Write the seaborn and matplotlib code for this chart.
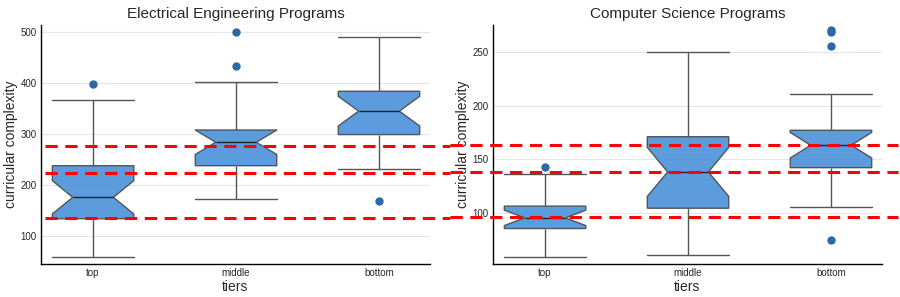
import numpy as np
import pandas as pd
import matplotlib
matplotlib.use("Agg")
import matplotlib.pyplot as plt
import matplotlib.colors as mcolors
import seaborn as sns

tiers = ["top", "middle", "bottom"]

# curricular complexity per tier
ee_top = [58, 88, 104, 115, 122, 129, 133, 141, 150, 157, 163, 170, 175,
          183, 192, 201, 214, 226, 237, 252, 271, 296, 331, 366, 398]
ee_middle = [171, 196, 210, 221, 229, 237, 248, 259, 268, 276, 283, 288,
             293, 298, 302, 307, 331, 362, 402, 433, 500]
ee_bottom = [167, 231, 256, 272, 286, 298, 309, 318, 327, 336, 344, 352,
             360, 368, 376, 383, 402, 423, 447, 468, 489]

cs_top = [58, 68, 74, 79, 82, 85, 87, 89, 91, 93, 95, 97, 99, 101, 103,
          106, 112, 119, 127, 136, 143]
cs_middle = [60, 72, 81, 89, 97, 104, 111, 118, 125, 132, 138, 145, 151,
             158, 165, 171, 183, 197, 212, 230, 250]
cs_bottom = [74, 105, 118, 128, 136, 142, 147, 151, 155, 159, 163, 166,
             169, 172, 175, 177, 194, 211, 256, 269, 271]

# red dashed reference lines
ee_refs = [275, 223, 134]
cs_refs = [163, 138, 96]

BOX_W = 0.57
CAP_COLOR = "#555555"


def make_df(groups):
    rows = []
    for tier, vals in zip(tiers, groups):
        for v in vals:
            rows.append({"tiers": tier, "curricular complexity": v})
    return pd.DataFrame(rows)


sns.set_style("white")
plt.rcParams["font.family"] = ["Liberation Sans", "DejaVu Sans"]

fig, axes = plt.subplots(1, 2, figsize=(9, 2.97), dpi=100)
fig.subplots_adjust(left=0.0456, right=0.98, top=0.916, bottom=0.11, wspace=0.162)

panels = [
    (axes[0], make_df([ee_top, ee_middle, ee_bottom]), "Electrical Engineering Programs",
     ee_refs, (43.6, 513), [100, 200, 300, 400, 500], (0.01, 1.051)),
    (axes[1], make_df([cs_top, cs_middle, cs_bottom]), "Computer Science Programs",
     cs_refs, (51.5, 275.6), [100, 150, 200, 250], (-0.11, 1.041)),
]

for ax, df, title, refs, ylim, yticks, span in panels:
    ax.grid(True, color="#e6e6e6", linewidth=0.8)
    ax.set_axisbelow(True)
    sns.boxplot(data=df, x="tiers", y="curricular complexity", order=tiers, ax=ax,
                notch=True, width=BOX_W, color="#4a90d9", saturation=1,
                linecolor="#3c3c3c", linewidth=1.0, whis=1.5,
                boxprops={"alpha": 0.9, "edgecolor": "#4a4a4a"},
                whiskerprops={"color": CAP_COLOR},
                capprops={"color": CAP_COLOR},
                medianprops={"color": "#222222", "linewidth": 1.0},
                flierprops={"marker": "o", "markerfacecolor": "#2c68a6",
                            "markeredgecolor": "#2c68a6", "markersize": 5})
    # caps as wide as the boxes (seaborn draws them at half width)
    for line in ax.lines:
        x = np.asarray(line.get_xdata(), dtype=float)
        y = np.asarray(line.get_ydata(), dtype=float)
        if (len(x) == 2 and y[0] == y[1] and x[0] != x[1]
                and mcolors.same_color(line.get_color(), CAP_COLOR)):
            c = (x[0] + x[1]) / 2
            line.set_xdata([c - BOX_W / 2, c + BOX_W / 2])
    for r in refs:
        ax.axhline(r, xmin=span[0], xmax=span[1], color="#ff0000", linestyle=(0, (4, 2.5)),
                   linewidth=2.2, clip_on=False, zorder=5)
    ax.set_xlim(-0.364, 2.357)
    ax.set_ylim(*ylim)
    ax.set_yticks(yticks)
    ax.set_title(title, fontsize=11, pad=5)
    ax.set_xlabel("tiers", fontsize=10, labelpad=1)
    ax.set_ylabel("curricular complexity", fontsize=10, labelpad=2)
    ax.tick_params(axis="both", labelsize=7, length=2, direction="in", pad=3)
    for s in ["top", "right"]:
        ax.spines[s].set_visible(False)
    for s in ["left", "bottom"]:
        ax.spines[s].set_color("black")
        ax.spines[s].set_linewidth(1.0)

fig.savefig("out.png", dpi=100)
